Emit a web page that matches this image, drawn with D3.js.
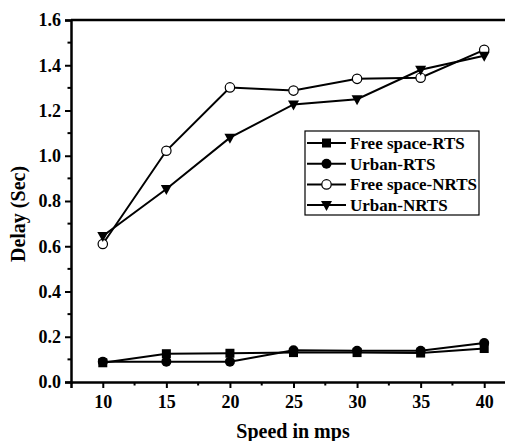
<!DOCTYPE html>
<html>
<head>
<meta charset="utf-8">
<script src="https://cdn.jsdelivr.net/npm/d3@7"></script>
<style>
  html, body { margin: 0; padding: 0; background: #fff; }
  svg { display: block; }
  svg text { font-family: "Liberation Serif", "Times New Roman", serif; font-weight: bold; fill: #000; }
</style>
</head>
<body>
<svg id="chart" width="505" height="441"></svg>
<script>
// Speed (mps) on the x axis
const speeds = [10, 15, 20, 25, 30, 35, 40];

// Delay (Sec) per series
const freeSpaceRTS  = [0.085, 0.125, 0.127, 0.130, 0.130, 0.128, 0.148];
const urbanRTS      = [0.090, 0.090, 0.090, 0.140, 0.138, 0.138, 0.172];
const freeSpaceNRTS = [0.610, 1.022, 1.302, 1.288, 1.340, 1.345, 1.468];
const urbanNRTS     = [0.645, 0.853, 1.080, 1.227, 1.250, 1.380, 1.442];

const seriesNames = ["Free space-RTS", "Urban-RTS", "Free space-NRTS", "Urban-NRTS"];
const seriesValues = [freeSpaceRTS, urbanRTS, freeSpaceNRTS, urbanNRTS];
const seriesMarkers = ["square", "circle", "openCircle", "triangleDown"];

const xTicks = [10, 15, 20, 25, 30, 35, 40];
const yTicks = [0.0, 0.2, 0.4, 0.6, 0.8, 1.0, 1.2, 1.4, 1.6];

const svg = d3.select("#chart");
const plotLeft = 71, plotTop = 20, plotBottom = 382, plotRight = 516;

const x = d3.scaleLinear().domain([7.5, 42.5]).range([plotLeft, plotRight]);
const y = d3.scaleLinear().domain([0, 1.6]).range([plotBottom, plotTop]);

// frame: top edge
svg.append("line")
  .attr("x1", plotLeft).attr("x2", plotRight).attr("y1", plotTop).attr("y2", plotTop)
  .attr("stroke", "#000").attr("stroke-width", 2.5);

// y axis
const yAxis = svg.append("g").attr("transform", `translate(${plotLeft},0)`)
  .call(d3.axisLeft(y).tickValues(yTicks).tickFormat(d3.format(".1f")).tickSize(6).tickPadding(4));
yAxis.selectAll("text").style("font-size", "18px");
// minor y ticks
svg.append("g").selectAll("line")
  .data(d3.range(0.1, 1.6, 0.2))
  .join("line")
  .attr("x1", plotLeft - 3.5).attr("x2", plotLeft)
  .attr("y1", d => y(d)).attr("y2", d => y(d))
  .attr("stroke", "#000").attr("stroke-width", 2);

// x axis
const xAxis = svg.append("g").attr("transform", `translate(0,${plotBottom})`)
  .call(d3.axisBottom(x).tickValues(xTicks).tickSize(6).tickPadding(7));
xAxis.selectAll("text").style("font-size", "18px");
// minor x ticks
svg.append("g").selectAll("line")
  .data(d3.range(12.5, 42.5, 5))
  .join("line")
  .attr("x1", d => x(d)).attr("x2", d => x(d))
  .attr("y1", plotBottom).attr("y2", plotBottom + 3.5)
  .attr("stroke", "#000").attr("stroke-width", 2);

[yAxis, xAxis].forEach(a => {
  a.select(".domain").attr("stroke-width", 2.5).attr("stroke", "#000");
  a.selectAll(".tick line").attr("stroke-width", 2).attr("stroke", "#000");
});

// axis titles
svg.append("text")
  .attr("x", 293).attr("y", 438)
  .attr("text-anchor", "middle").style("font-size", "20px")
  .text("Speed in mps");
svg.append("text")
  .attr("transform", "translate(25,214) rotate(-90)")
  .attr("text-anchor", "middle").style("font-size", "20px")
  .text("Delay (Sec)");

function drawMarker(g, type, cx, cy) {
  if (type === "square") {
    g.append("rect").attr("x", cx - 4.5).attr("y", cy - 4.5).attr("width", 9).attr("height", 9).attr("fill", "#000");
  } else if (type === "circle") {
    g.append("circle").attr("cx", cx).attr("cy", cy).attr("r", 5).attr("fill", "#000");
  } else if (type === "openCircle") {
    g.append("circle").attr("cx", cx).attr("cy", cy).attr("r", 4.7).attr("fill", "#fff")
      .attr("stroke", "#000").attr("stroke-width", 1.2);
  } else {
    g.append("path")
      .attr("d", `M${cx - 5.5},${cy - 4} L${cx + 5.5},${cy - 4} L${cx},${cy + 6} Z`)
      .attr("fill", "#000");
  }
}

const line = d3.line().x((d, i) => x(speeds[i])).y(d => y(d));
seriesValues.forEach((vals, s) => {
  const g = svg.append("g");
  g.append("path").datum(vals).attr("d", line)
    .attr("fill", "none").attr("stroke", "#000").attr("stroke-width", 2);
  vals.forEach((v, i) => drawMarker(g, seriesMarkers[s], x(speeds[i]), y(v)));
});

// legend
const lg = svg.append("g");
lg.append("rect").attr("x", 305).attr("y", 131).attr("width", 174).attr("height", 84)
  .attr("fill", "#fff").attr("stroke", "#000").attr("stroke-width", 1.2);
seriesNames.forEach((name, i) => {
  const cy = 143 + i * 20.7;
  lg.append("line").attr("x1", 307).attr("x2", 346).attr("y1", cy).attr("y2", cy)
    .attr("stroke", "#000").attr("stroke-width", 2);
  drawMarker(lg, seriesMarkers[i], 326.5, cy);
  lg.append("text").attr("x", 350).attr("y", cy + 6).style("font-size", "17px").text(name);
});
</script>
</body>
</html>
